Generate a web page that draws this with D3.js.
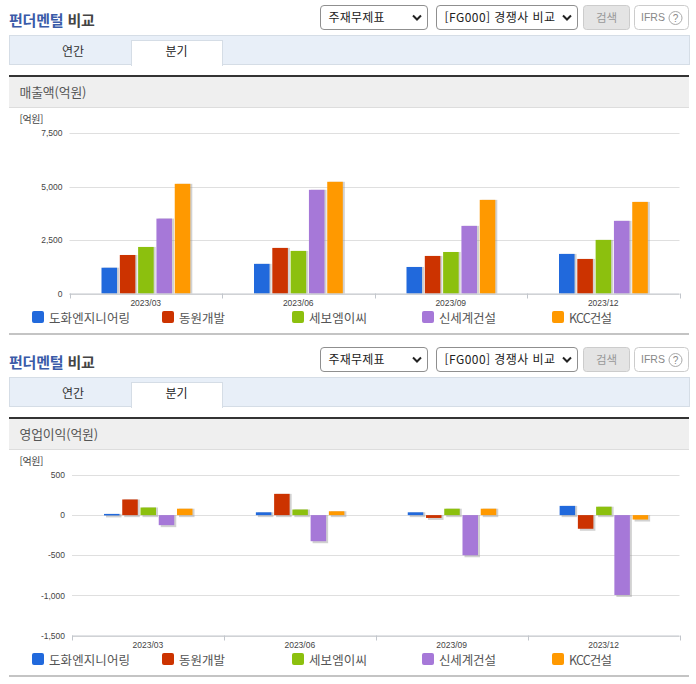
<!DOCTYPE html>
<html lang="ko"><head><meta charset="utf-8">
<script src="https://d3js.org/d3.v7.min.js"></script>
<style>
html,body{margin:0;padding:0;background:#fff}
svg{display:block}
text{font-family:"Noto Sans CJK KR","Noto Sans",sans-serif}
.tick text{font-family:"Liberation Sans",Arial,sans-serif}
</style></head><body>
<svg id="c" width="696" height="684"></svg>
<script>
const quarters = ["2023/03","2023/06","2023/09","2023/12"];
const companies = ["도화엔지니어링","동원개발","세보엠이씨","신세계건설","KCC건설"];
const colors = ["#2169dc","#cc3300","#8cc00e","#a678d8","#ff9900"];
const legendXs = [32,162,292,422,552];
const revenue = [
  [1205,1385,1240,1850],
  [1800,2130,1755,1615],
  [2175,1990,1940,2505],
  [3500,4845,3160,3395],
  [5125,5220,4375,4280]
];
const profit = [
  [15,35,35,115],
  [195,265,-35,-170],
  [95,70,80,105],
  [-125,-325,-500,-995],
  [80,48,80,-55]
];
const revenueTicks = [0,2500,5000,7500];
const profitTicks = [-1500,-1000,-500,0,500];
const svg = d3.select("#c");
const legendWidths = [81,46,58,57,43];

function section(cfg){
  const g = svg.append("g").attr("transform",`translate(0,${cfg.dy})`);
  // heading
  const h = g.append("text").attr("x",9).attr("y",26).attr("font-size",15).attr("font-weight",700).attr("letter-spacing",-0.2);
  h.append("tspan").attr("fill","#3a5ba8").text("펀더멘털");
  h.append("tspan").attr("fill","#444").text(" 비교");
  // selects
  const sel = (x,w,label,ls)=>{
    g.append("rect").attr("x",x+.5).attr("y",5.5).attr("width",w-1).attr("height",24).attr("rx",3.5).attr("fill","#fff").attr("stroke","#8f8f8f");
    g.append("text").attr("x",x+8.5).attr("y",22).attr("font-size",12).attr("letter-spacing",ls).attr("fill","#222").text(label);
    const cx=x+w-11;
    g.append("path").attr("d",`M${cx-4} 15.5L${cx} 19.5L${cx+4} 15.5`).attr("fill","none").attr("stroke","#222").attr("stroke-width",2);
  };
  sel(320,108,"주재무제표",0.2);
  sel(436,142,"[FG000] 경쟁사 비교",0.45);
  g.append("rect").attr("x",583.5).attr("y",5.5).attr("width",46).attr("height",24).attr("rx",3).attr("fill","#e4e4e4").attr("stroke","#ccc");
  g.append("text").attr("x",606.5).attr("y",21.5).attr("text-anchor","middle").attr("font-size",11.5).attr("fill","#999").text("검색");
  g.append("rect").attr("x",634.5).attr("y",5.5).attr("width",54).attr("height",24).attr("rx",4).attr("fill","#fff").attr("stroke","#ccc");
  g.append("text").attr("x",641).attr("y",21).attr("font-size",10.5).attr("fill","#888").attr("style",'font-family:"Liberation Sans",Arial,sans-serif').text("IFRS");
  g.append("circle").attr("cx",675.5).attr("cy",18).attr("r",6.5).attr("fill","#fff").attr("stroke","#aaa");
  g.append("text").attr("x",675.5).attr("y",21.5).attr("text-anchor","middle").attr("font-size",10).attr("fill","#888").attr("style",'font-family:"Liberation Sans",Arial,sans-serif').text("?");
  // tab bar
  g.append("rect").attr("x",9.5).attr("y",35.5).attr("width",680).attr("height",29).attr("fill","#e8eff8").attr("stroke","#d5dde6");
  g.append("rect").attr("x",131.5).attr("y",40.5).attr("width",91).attr("height",25).attr("fill","#fff").attr("stroke","#d5dde6");
  g.append("rect").attr("x",132).attr("y",60).attr("width",90).attr("height",6).attr("fill","#fff");
  g.append("text").attr("x",73).attr("y",56).attr("text-anchor","middle").attr("font-size",12).attr("fill","#333").text("연간");
  g.append("text").attr("x",176.5).attr("y",56).attr("text-anchor","middle").attr("font-size",12).attr("fill","#222").text("분기");
  // panel header
  g.append("rect").attr("x",9).attr("y",75).attr("width",680).attr("height",32).attr("fill","#efefef");
  g.append("rect").attr("x",9).attr("y",75).attr("width",680).attr("height",2).attr("fill","#333");
  g.append("rect").attr("x",9).attr("y",107).attr("width",680).attr("height",1).attr("fill","#ddd");
  g.append("text").attr("x",19.5).attr("y",97).attr("font-size",12.8).attr("letter-spacing",-0.1).attr("fill","#555").text(cfg.title);
  g.append("text").attr("x",19.5).attr("y",123).attr("font-size",10).attr("fill","#444").attr("letter-spacing",-0.4).text("[억원]");

  // chart (own pixel frame)
  const x0 = d3.scaleBand().domain(quarters).range([cfg.left,679.5]);
  const x1 = d3.scaleBand().domain(d3.range(companies.length)).range(cfg.inner).paddingInner(.15);
  const y = d3.scaleLinear().domain(d3.extent(cfg.ticks)).range([cfg.y0,cfg.y1]);
  const baseline = d3.min(cfg.ticks)<0 ? y(0) : cfg.y0;

  const fmt = d3.format(",");
  const ya = d3.axisLeft(y).tickValues(cfg.ticks).tickSize(0).tickPadding(cfg.pad).tickFormat(d=>fmt(d).replace("\u2212","-"));
  const yg = g.append("g").attr("transform",`translate(${cfg.left},0)`).call(ya);
  yg.select(".domain").remove();
  yg.selectAll("text").attr("font-size",8.5).attr("fill","#444");
  g.append("g").selectAll("line").data(cfg.ticks).join("line")
    .attr("x1",cfg.left).attr("x2",679.5)
    .attr("y1",d=>Math.round(y(d))+.5).attr("y2",d=>Math.round(y(d))+.5).attr("stroke","#dfdfdf");

  const series = g.append("g").selectAll("g").data(cfg.values).join("g");
  const bar = (sel,dx,dy,fill,op)=>sel.selectAll("rect."+(dx?"s":"b")).data((v,i)=>v.map((d,q)=>({d,q,i}))).join("rect")
    .attr("class",dx?"s":"b")
    .attr("x",o=>x0(quarters[o.q])+x1(o.i)+dx)
    .attr("y",o=>Math.min(y(o.d),baseline))
    .attr("width",x1.bandwidth())
    .attr("height",o=>Math.max(1.5,Math.abs(y(o.d)-baseline))+dy)
    .attr("fill",fill).attr("opacity",op);
  bar(series,2,cfg.sh,"#999",.45);
  bar(series,0,0,"#000",1);
  series.selectAll("rect.b").attr("fill",o=>colors[o.i]);

  const xa = d3.axisBottom(x0).tickValues([]).tickSize(0);
  const xg = g.append("g").attr("transform",`translate(0,${cfg.y0})`).call(xa);
  xg.select(".domain").attr("stroke","#c2c6cc").attr("d",`M${cfg.left},0.5H679.5`);
  const edges = quarters.map(q=>x0(q)).concat([679.5]);
  xg.selectAll("line.t").data(edges).join("line").attr("class","t")
    .attr("x1",d=>Math.round(d)+.5).attr("x2",d=>Math.round(d)+.5).attr("y1",0).attr("y2",5).attr("stroke","#c2c6cc");
  xg.selectAll("text.q").data(quarters).join("text").attr("class","q")
    .attr("x",q=>x0(q)+x0.bandwidth()/2).attr("y",12.5).attr("text-anchor","middle")
    .attr("font-size",8.5).attr("fill","#444").attr("style",'font-family:"Liberation Sans",Arial,sans-serif').text(q=>q);

  // legend
  const lg = g.append("g").selectAll("g").data(companies).join("g")
    .attr("transform",(d,i)=>`translate(${legendXs[i]},311)`);
  lg.append("rect").attr("width",12).attr("height",12).attr("rx",2).attr("fill",(d,i)=>colors[i]);
  lg.append("text").attr("x",17).attr("y",11.5).attr("font-size",12.5)
    .attr("textLength",(d,i)=>legendWidths[i]).attr("lengthAdjust","spacing").attr("fill","#555").text(d=>d);

  // bottom rule
  g.append("rect").attr("x",9).attr("y",333).attr("width",680).attr("height",2).attr("fill","#c4c4c4");
}

section({dy:0,title:"매출액(억원)",values:revenue,ticks:revenueTicks,left:69.5,y0:293.5,y1:133,pad:7,inner:[32,120.8],sh:0});
section({dy:342,title:"영업이익(억원)",values:profit,ticks:profitTicks,left:72,y0:293.5,y1:133,pad:7,inner:[32,120.5],sh:2});
</script>
</body></html>
